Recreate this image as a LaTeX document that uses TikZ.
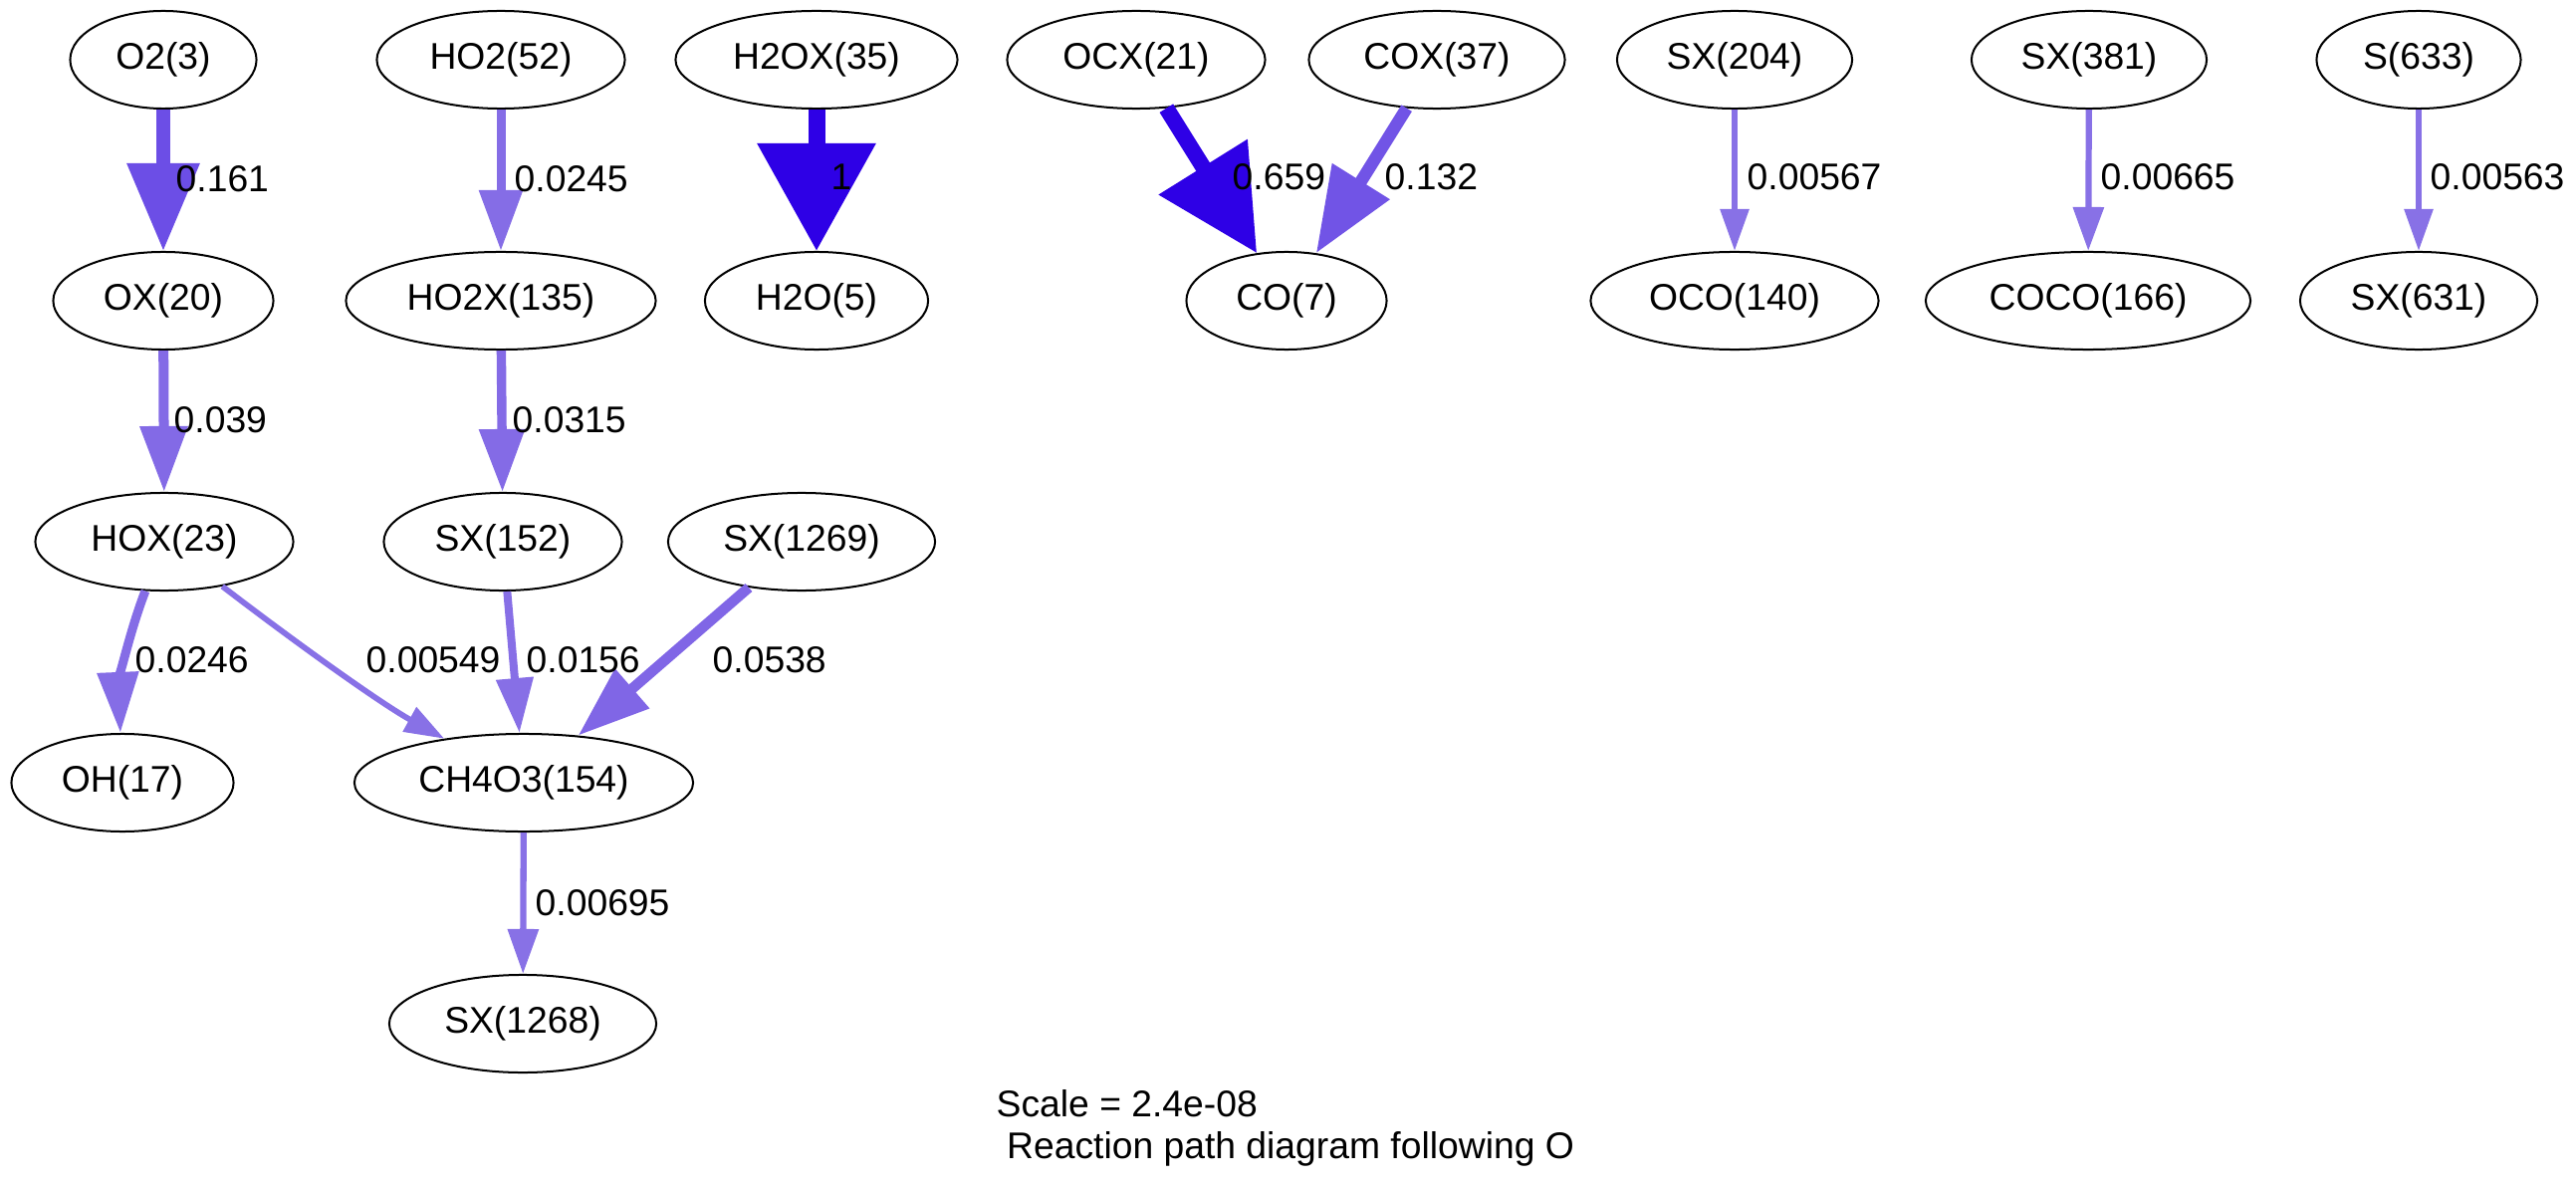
\documentclass[tikz,border=0pt]{standalone}
\usepackage{fontspec}
\setmainfont{Liberation Sans}
\usetikzlibrary{shapes.geometric,arrows.meta}

% edge colours: hue 0.7, saturation from the flux, brightness 0.9
\definecolor{fA}{HTML}{2E00E6}
\definecolor{fB}{HTML}{6C4EE6}
\definecolor{fC}{HTML}{7154E6}
\definecolor{fD}{HTML}{8066E6}
\definecolor{fE}{HTML}{836AE6}
\definecolor{fF}{HTML}{846BE6}
\definecolor{fG}{HTML}{856DE6}
\definecolor{fH}{HTML}{876FE6}
\definecolor{fI}{HTML}{8871E6}

\begin{document}
\begin{tikzpicture}[x=0.01cm,y=-0.01cm,
  species/.style={draw, ellipse, line width=0.02cm, inner sep=0pt,
    minimum height=0.98cm, font=\fontsize{10.6}{12}\selectfont},
  val/.style={anchor=west, inner sep=0pt, font=\fontsize{10.6}{12}\selectfont},
  flow/.style n args={4}{draw=#1, line width=#2,
    -{Triangle[length=#3,width=#4]}}]

  \def\ya{60}
  \def\yb{302}
  \def\yc{544}
  \def\yd{786}
  \def\ye{1028}

  \useasboundingbox (0,0) rectangle (2587,1194);

  % species
  \node[species, minimum width=1.87cm] (o2)    at (164,\ya)  {O2(3)};
  \node[species, minimum width=2.49cm] (ho2)   at (503,\ya)  {HO2(52)};
  \node[species, minimum width=2.83cm] (h2ox)  at (820,\ya)  {H2OX(35)};
  \node[species, minimum width=2.59cm] (ocx)   at (1141,\ya) {OCX(21)};
  \node[species, minimum width=2.57cm] (cox)   at (1443,\ya) {COX(37)};
  \node[species, minimum width=2.36cm] (sx204) at (1742,\ya) {SX(204)};
  \node[species, minimum width=2.36cm] (sx381) at (2098,\ya) {SX(381)};
  \node[species, minimum width=2.05cm] (s633)  at (2429,\ya) {S(633)};

  \node[species, minimum width=2.21cm] (ox)    at (164,\yb)  {OX(20)};
  \node[species, minimum width=3.11cm] (ho2x)  at (503,\yb)  {HO2X(135)};
  \node[species, minimum width=2.24cm] (h2o)   at (820,\yb)  {H2O(5)};
  \node[species, minimum width=2.01cm] (co)    at (1292,\yb) {CO(7)};
  \node[species, minimum width=2.89cm] (oco)   at (1742,\yb) {OCO(140)};
  \node[species, minimum width=3.26cm] (coco)  at (2097,\yb) {COCO(166)};
  \node[species, minimum width=2.38cm] (sx631) at (2429,\yb) {SX(631)};

  \node[species, minimum width=2.59cm] (hox)    at (165,\yc) {HOX(23)};
  \node[species, minimum width=2.39cm] (sx152)  at (505,\yc) {SX(152)};
  \node[species, minimum width=2.68cm] (sx1269) at (805,\yc) {SX(1269)};

  \node[species, minimum width=2.23cm] (oh)     at (123,\yd) {OH(17)};
  \node[species, minimum width=3.40cm] (ch4o3)  at (526,\yd) {CH4O3(154)};

  \node[species, minimum width=2.68cm] (sx1268) at (525,\ye) {SX(1268)};

  % fluxes
  \draw[flow={fB}{0.13cm}{0.88cm}{0.70cm}] (o2) -- (ox);
  \draw[flow={fG}{0.09cm}{0.61cm}{0.42cm}] (ho2) -- (ho2x);
  \draw[flow={fA}{0.17cm}{1.08cm}{1.15cm}] (h2ox) -- (h2o);
  \draw[flow={fA}{0.16cm}{1.02cm}{1.01cm}] (ocx) -- (co);
  \draw[flow={fC}{0.124cm}{0.85cm}{0.65cm}] (cox) -- (co);
  \draw[flow={fI}{0.058cm}{0.42cm}{0.28cm}] (sx204) -- (oco);
  \draw[flow={fI}{0.062cm}{0.44cm}{0.30cm}] (sx381) -- (coco);
  \draw[flow={fI}{0.058cm}{0.42cm}{0.28cm}] (s633) -- (sx631);
  \draw[flow={fE}{0.10cm}{0.66cm}{0.46cm}] (ox) -- (hox);
  \draw[flow={fF}{0.094cm}{0.63cm}{0.44cm}] (ho2x) -- (sx152);
  \draw[flow={fG}{0.09cm}{0.61cm}{0.40cm}] (hox) .. controls (128,640) and (119,690) .. (oh);
  \draw[flow={fI}{0.0575cm}{0.40cm}{0.27cm}] (hox) .. controls (290,640) and (380,705) .. (ch4o3);
  \draw[flow={fH}{0.08cm}{0.55cm}{0.36cm}] (sx152) -- (ch4o3);
  \draw[flow={fD}{0.105cm}{0.72cm}{0.50cm}] (sx1269) -- (ch4o3);
  \draw[flow={fI}{0.063cm}{0.45cm}{0.30cm}] (ch4o3) -- (sx1268);

  % labels
  \node[val] (v161)   at (176,180)  {0.161};
  \node[val] (v0245)  at (516,180)  {0.0245};
  \node[val] (v1)     at (834,178)  {1};
  \node[val] (v659)   at (1237,178) {0.659};
  \node[val] (v132)   at (1390,178) {0.132};
  \node[val] (v567)   at (1754,178) {0.00567};
  \node[val] (v665)   at (2109,178) {0.00665};
  \node[val] (v563)   at (2440,178) {0.00563};
  \node[val] (v039)   at (174,422)  {0.039};
  \node[val] (v0315)  at (514,422)  {0.0315};
  \node[val] (v0246)  at (135,663)  {0.0246};
  \node[val] (v549)   at (367,663)  {0.00549};
  \node[val] (v0156)  at (528,663)  {0.0156};
  \node[val] (v0538)  at (715,663)  {0.0538};
  \node[val] (v695)   at (537,907)  {0.00695};

  % caption
  \node[anchor=north west, align=left, inner sep=0pt,
    font=\fontsize{10.6}{11.95}\selectfont] (caption) at (1000,1094)
    {Scale = 2.4e-08\\\hspace*{0.28em}Reaction path diagram following O};

\end{tikzpicture}
\end{document}
